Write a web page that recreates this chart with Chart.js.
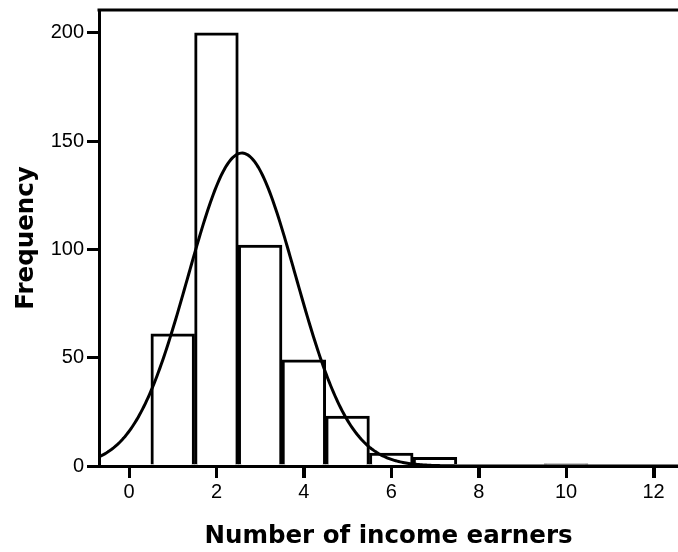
<!DOCTYPE html>
<html>
<head>
<meta charset="utf-8">
<script src="https://cdn.jsdelivr.net/npm/chart.js@4"></script>
<style>
  html, body { margin: 0; padding: 0; background: #fff; overflow: hidden; }
  #wrap { width: 678px; height: 552px; position: relative; }
</style>
</head>
<body>
<div id="wrap"><canvas id="hist" width="678" height="552"></canvas></div>
<script>
// Histogram of household income earners with a fitted normal curve
const binCenters = [1, 2, 3, 4, 5, 6, 7, 10];
const frequencies = [61, 200, 102, 49, 23, 6, 4, 1];
const xTickValues = [0, 2, 4, 6, 8, 10, 12];
const yTickValues = [0, 50, 100, 150, 200];

const X_MIN = -0.687, X_MAX = 12.56;
const Y_MIN = 0, Y_MAX = 210.6;

// Normal curve fitted to the binned data (same N, mean and sd)
const total = frequencies.reduce((a, b) => a + b, 0);
const mean = binCenters.reduce((s, x, i) => s + x * frequencies[i], 0) / total;
const variance = binCenters.reduce((s, x, i) => s + (x - mean) ** 2 * frequencies[i], 0) / (total - 1);
const sd = Math.sqrt(variance);
const curve = [];
for (let k = 0; k <= 400; k++) {
  const x = X_MIN + (X_MAX - X_MIN) * k / 400;
  const y = total / (sd * Math.sqrt(2 * Math.PI)) * Math.exp(-((x - mean) ** 2) / (2 * variance));
  curve.push({ x, y });
}

// Top frame line and outward tick marks on the x axis
const frame = {
  id: 'frame',
  afterDraw(chart) {
    const { ctx, chartArea } = chart;
    const xs = chart.scales.x;
    ctx.save();
    ctx.fillStyle = '#000';
    ctx.fillRect(chartArea.left - 1.5, chartArea.top - 1.5, chartArea.right - chartArea.left + 1.5, 3);
    xTickValues.forEach(v => {
      const px = Math.round(xs.getPixelForValue(v));
      ctx.fillRect(px - 1, chartArea.bottom, 3, 12);
    });
    ctx.restore();
  }
};

const tickFont = { family: '"Liberation Sans", Arial, sans-serif', size: 20 };
const titleFont = { family: '"DejaVu Sans", Verdana, sans-serif', size: 24.5, weight: 'bold' };

const chart = new Chart(document.getElementById('hist'), {
  type: 'bar',
  data: {
    datasets: [
      {
        type: 'line',
        data: curve,
        borderColor: '#000',
        borderWidth: 3,
        pointRadius: 0,
        tension: 0,
        fill: false,
        order: 0
      },
      {
        type: 'bar',
        data: binCenters.map((x, i) => ({ x, y: frequencies[i] })),
        backgroundColor: '#fff',
        borderColor: '#000',
        borderWidth: 3,
        borderSkipped: 'bottom',
        barPercentage: 1,
        categoryPercentage: 1,
        order: 1
      }
    ]
  },
  options: {
    responsive: false,
    devicePixelRatio: 1,
    animation: false,
    layout: { padding: { top: 10, left: 0, right: 0, bottom: 0 } },
    plugins: { legend: { display: false }, tooltip: { enabled: false } },
    scales: {
      x: {
        type: 'linear',
        min: X_MIN,
        max: X_MAX,
        offset: false,
        afterFit(scale) { scale.height = 86; scale.paddingLeft = 0; scale.paddingRight = 0; },
        afterBuildTicks(scale) { scale.ticks = xTickValues.map(v => ({ value: v })); },
        grid: { offset: false, drawOnChartArea: false, drawTicks: true, tickLength: 12, color: '#000', lineWidth: 3 },
        border: { display: true, color: '#000', width: 3 },
        ticks: { color: '#000', font: tickFont, padding: 2, maxRotation: 0 },
        title: { display: true, text: 'Number of income earners', color: '#000', font: titleFont, padding: { top: 0, bottom: 1 } }
      },
      y: {
        min: Y_MIN,
        max: Y_MAX,
        afterFit(scale) { scale.width = 99; scale.paddingTop = 0; scale.paddingBottom = 0; },
        afterBuildTicks(scale) { scale.ticks = yTickValues.map(v => ({ value: v })); },
        grid: { offset: false, drawOnChartArea: false, drawTicks: true, tickLength: 12, color: '#000', lineWidth: 3 },
        border: { display: true, color: '#000', width: 3 },
        ticks: { color: '#000', font: tickFont, padding: 3 },
        title: { display: true, text: 'Frequency', color: '#000', font: titleFont, padding: { top: 12, bottom: 0 } }
      }
    }
  },
  plugins: [frame]
});

// Repaint once the page has settled so the canvas is fully composited
requestAnimationFrame(() => {
  chart.draw();
  document.getElementById('wrap').setAttribute('data-ready', '1');
});
</script>
</body>
</html>
